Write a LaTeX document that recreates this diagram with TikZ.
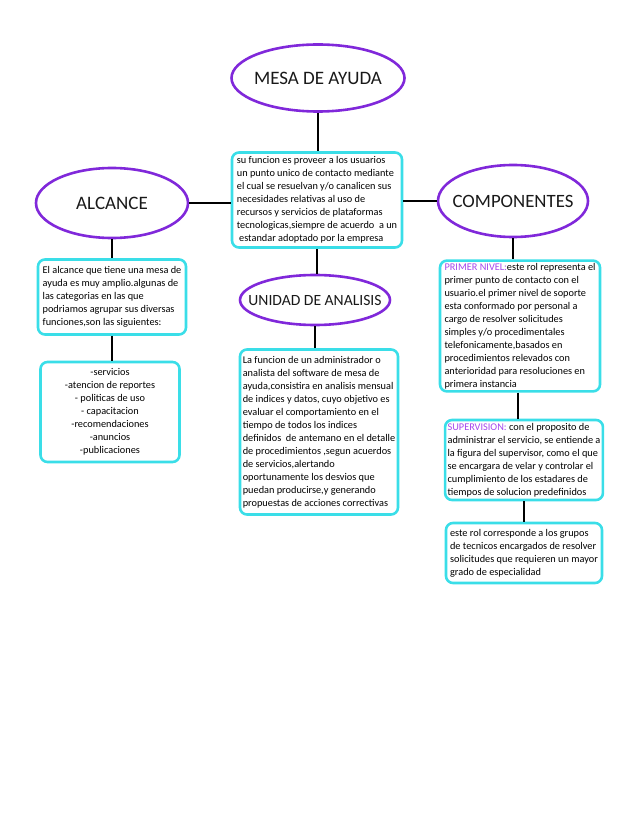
\documentclass[tikz,border=0pt]{standalone}
\usepackage{fontspec}
\setmainfont{Carlito}
\usepackage{xcolor}
\usetikzlibrary{shapes.geometric, positioning, calc}
\definecolor{mypurple}{RGB}{128, 40, 218}
\definecolor{mycyan}{RGB}{58, 222, 232}
\definecolor{mylabel}{RGB}{165, 70, 235}

\begin{document}
\begin{tikzpicture}[
    x=1pt, y=1pt,
    topic/.style={ellipse, draw=mypurple, line width=2.6pt, inner sep=0pt, text=black!90},
    info/.style={rectangle, rounded corners=7pt, draw=mycyan, line width=2.6pt, inner sep=2.5pt, align=left, font=\fontsize{10.3}{13}\selectfont, text=black},
    link/.style={line width=2.4pt}
]
\useasboundingbox (0,0) rectangle (638,-826);

% Title
\node[topic, minimum width=173pt, minimum height=67pt, font=\fontsize{19}{23}\selectfont] (mesa) at (318,-78) {\makebox[0pt]{MESA DE AYUDA}};

% Center definition
\node[info, minimum width=170pt, minimum height=95pt] (funcion) at (317,-200) {su funcion es proveer a los usuarios\\un punto unico de contacto mediante\\el cual se resuelvan y/o canalicen sus\\necesidades relativas al uso de\\recursos y servicios de plataformas\\tecnologicas,siempre de acuerdo\ \ a un\\\ estandar adoptado por la empresa};

% Branches
\node[topic, minimum width=152pt, minimum height=70pt, font=\fontsize{19}{23}\selectfont] (alcance) at (112,-203) {\makebox[0pt]{ALCANCE}};
\node[topic, minimum width=150pt, minimum height=72pt, font=\fontsize{18.8}{22}\selectfont] (componentes) at (513,-201) {\makebox[0pt]{COMPONENTES}};
\node[topic, minimum width=150pt, minimum height=50pt, font=\fontsize{15.6}{18}\selectfont] (unidad) at (315,-300) {\makebox[0pt]{UNIDAD DE ANALISIS}};

% Alcance
\node[info, minimum width=148pt, minimum height=75pt] (descripcion) at (112,-297) {El alcance que tiene una mesa de\\ayuda es muy amplio.algunas de\\las categorias en las que\\podriamos agrupar sus diversas\\funciones,son las siguientes:};
\node[info, minimum width=139pt, minimum height=100pt, align=center] (lista) at (110,-412) {-servicios\\-atencion de reportes\\- politicas de uso\\- capacitacion\\-recomendaciones\\-anuncios\\-publicaciones};

% Unidad de analisis
\node[info, minimum width=158pt, minimum height=165pt] (analisis) at (319,-432) {La funcion de un administrador o\\analista del software de mesa de\\ayuda,consistira en analisis mensual\\de indices y datos, cuyo objetivo es\\evaluar el comportamiento en el\\tiempo de todos los indices\\definidos\ \ de antemano en el detalle\\de procedimientos ,segun acuerdos\\de servicios,alertando\\oportunamente los desvios que\\puedan producirse,y generando\\propuestas de acciones correctivas};

% Componentes
\node[info, minimum width=160pt, minimum height=128pt] (primer) at (520,-326) {\textcolor{mylabel}{PRIMER NIVEL:}este rol representa el\\primer punto de contacto con el\\usuario.el primer nivel de soporte\\esta conformado por personal a\\cargo de resolver solicitudes\\simples y/o procedimentales\\telefonicamente,basados en\\procedimientos relevados con\\anterioridad para resoluciones en\\primera instancia};
\node[info, minimum width=156pt, minimum height=80pt] (supervision) at (524,-460) {\textcolor{mylabel}{SUPERVISION:} con el proposito de\\administrar el servicio, se entiende a\\la figura del supervisor, como el que\\se encargara de velar y controlar el\\cumplimiento de los estadares de\\tiempos de solucion predefinidos};
\node[info, minimum width=156pt, minimum height=60pt] (especialistas) at (524,-553) {este rol corresponde a los grupos\\de tecnicos encargados de resolver\\solicitudes que requieren un mayor\\grado de especialidad};

% Connectors
\draw[link] (mesa.south) -- (mesa.south |- funcion.north);
\draw[link] (alcance.east) -- (alcance.east -| funcion.west);
\draw[link] (funcion.east |- componentes.west) -- (componentes.west);
\draw[link] (funcion.south) -- (funcion.south |- unidad.north);
\draw[link] (unidad.south) -- (unidad.south |- analisis.north);
\draw[link] (alcance.south) -- (alcance.south |- descripcion.north);
\draw[link] (descripcion.south) -- (descripcion.south |- lista.north);
\draw[link] (componentes.south) -- (componentes.south |- primer.north);
\draw[link] (primer.south -| 518,0) -- (supervision.north -| 518,0);
\draw[link] (supervision.south) -- (especialistas.north);

\end{tikzpicture}
\end{document}
